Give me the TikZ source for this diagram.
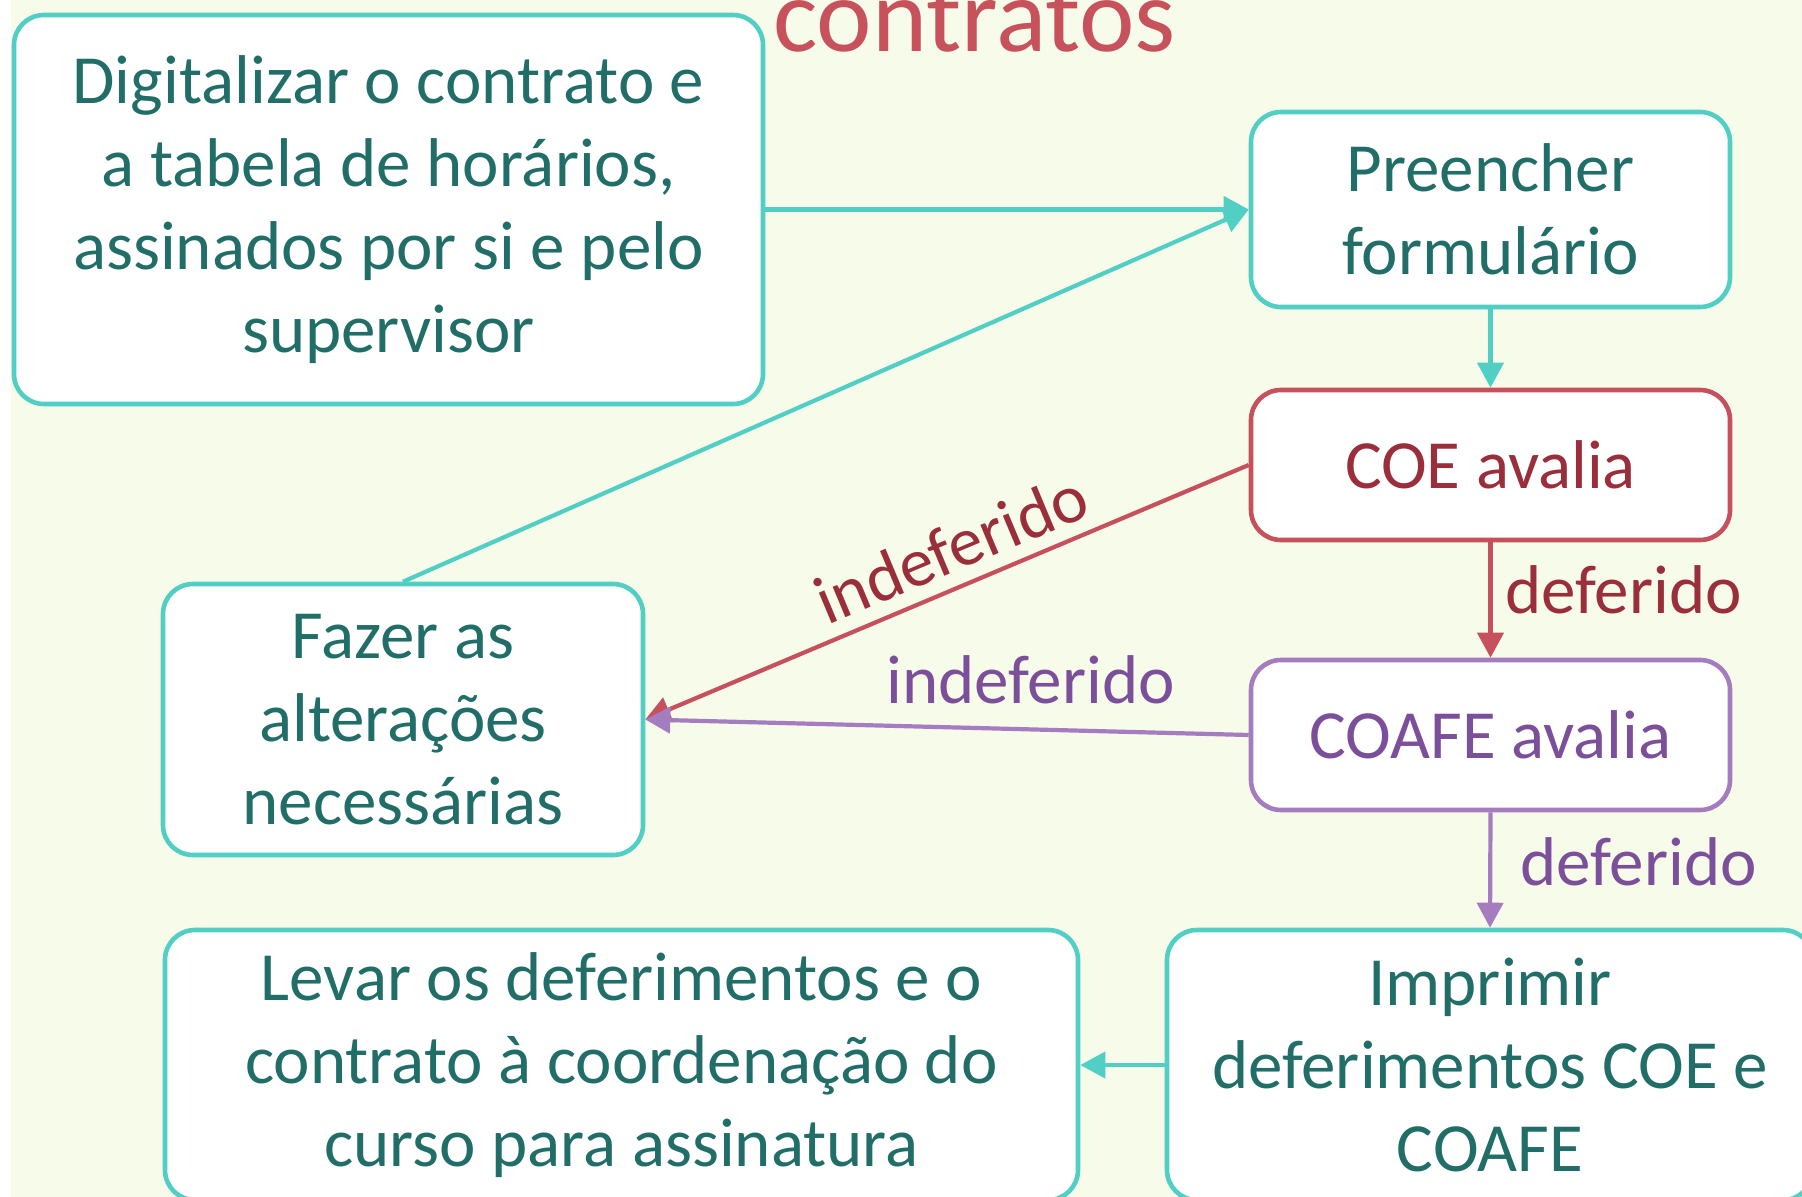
\documentclass[tikz,border=0pt]{standalone}
\usepackage{fontspec}
\setmainfont{Carlito}
\usetikzlibrary{arrows.meta}
\definecolor{bgc}{HTML}{F6FBEA}
\definecolor{boxteal}{HTML}{52CFC4}
\definecolor{txtteal}{HTML}{216E68}
\definecolor{redline}{HTML}{C6505B}
\definecolor{redtxt}{HTML}{9A2E3A}
\definecolor{purline}{HTML}{A47CBF}
\definecolor{purtxt}{HTML}{7C4F9B}
\definecolor{titlered}{HTML}{C8525C}
\tikzset{
  flowbox/.style={draw=boxteal, line width=2.3pt, rounded corners=15pt, fill=white,
    inner sep=0pt, align=center, font=\fontsize{34.5}{41.5}\selectfont, text=txtteal},
  conn/.style={line width=2.1pt, -{Triangle[length=12.5pt,width=13pt]}},
  lbl/.style={font=\fontsize{34.5}{41.5}\selectfont, inner sep=0pt}
}
\begin{document}
\begin{tikzpicture}[x=0.5pt,y=-0.5pt]
\useasboundingbox (0,0) rectangle (1802,1197);
\fill[white] (0,0) rectangle (11,1197);
\fill[bgc] (11,0) rectangle (1802,1197);
\node[anchor=base west, text=titlered, font=\fontsize{52.5}{60}\selectfont, inner sep=0pt] (title) at (773,52) {contratos};

\node[flowbox, minimum width=374.5pt, minimum height=194.5pt] (dig) at (388.5,209.5)
  {Digitalizar o contrato e\\a tabela de horários,\\assinados por si e pelo\\supervisor};
\node[flowbox, minimum width=239.5pt, minimum height=97.5pt] (pre) at (1490.5,209.5)
  {Preencher\\formulário};
\node[flowbox, draw=redline, text=redtxt, minimum width=239.5pt, minimum height=75pt] (coe) at (1490.5,465)
  {COE avalia};
\node[flowbox, draw=purline, text=purtxt, minimum width=239.5pt, minimum height=75pt] (coafe) at (1490.5,735)
  {COAFE avalia};
\node[flowbox, minimum width=240pt, minimum height=135.5pt] (faz) at (403,719.5)
  {Fazer as\\alterações\\necessárias};
\node[flowbox, minimum width=456.5pt, minimum height=135pt] (lev) at (621.5,1065)
  {Levar os deferimentos e o\\contrato à coordenação do\\curso para assinatura};
\node[flowbox, minimum width=323pt, minimum height=135pt] (imp) at (1490,1065)
  {Imprimir\\deferimentos COE e\\COAFE};

\draw[conn, boxteal] (dig.east) -- (pre.west);
\draw[conn, boxteal] (faz.north) -- (pre.west);
\draw[conn, boxteal] (pre.south) -- (coe.north);
\draw[conn, redline] (coe.west) -- (faz.east);
\draw[conn, redline] (coe.south) -- (coafe.north);
\draw[conn, purline] (coafe.west) -- (faz.east);
\draw[conn, purline] (coafe.south) -- (imp.north);
\draw[conn, boxteal] (imp.west) -- (lev.east);

\node[lbl, text=redtxt, anchor=base west] (ldef1) at (1505,613) {deferido};
\node[lbl, text=purtxt, anchor=base west] (ldef2) at (1520,885) {deferido};
\node[lbl, text=purtxt, anchor=base west] (lind2) at (886,703) {indeferido};
\node[lbl, text=redtxt, rotate=22.7] (lind1) at (951,548) {indeferido};
\end{tikzpicture}
\end{document}
